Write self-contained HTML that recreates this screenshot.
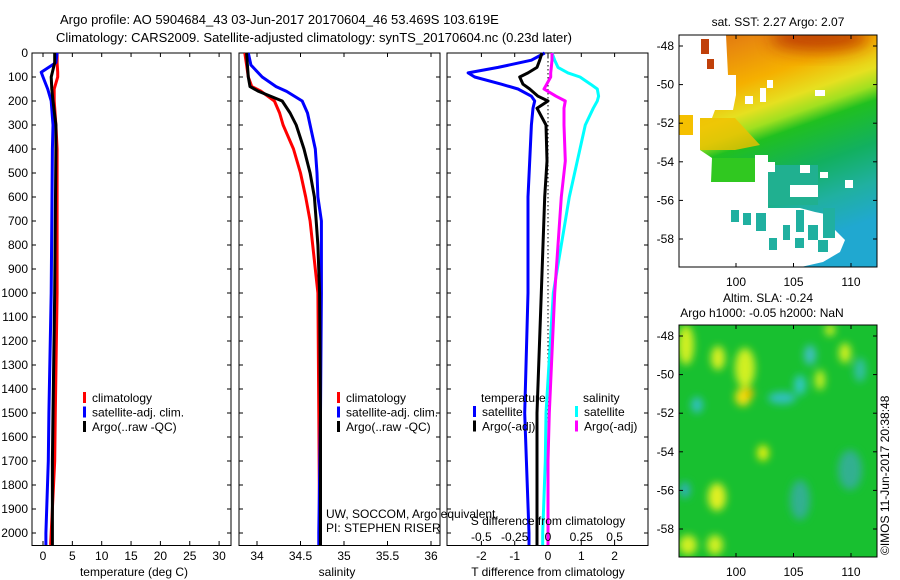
<!DOCTYPE html>
<html><head><meta charset="utf-8"><style>
body{margin:0;background:#fff;}
svg{display:block;font-family:"Liberation Sans",sans-serif;}
text{font-size:12px;fill:#000;}
</style></head><body>
<svg id="fig" width="900" height="580" viewBox="0 0 900 580">
<defs>
<filter id="blur" x="-50%" y="-50%" width="200%" height="200%"><feGaussianBlur stdDeviation="4"/></filter>
<filter id="blur2" x="-50%" y="-50%" width="200%" height="200%"><feGaussianBlur stdDeviation="8"/></filter>
<linearGradient id="sst" x1="0" y1="0" x2="0.3" y2="1">
<stop offset="0" stop-color="#d86a10"/><stop offset="0.12" stop-color="#e8880e"/><stop offset="0.28" stop-color="#f5b000"/>
<stop offset="0.4" stop-color="#e6e020"/><stop offset="0.47" stop-color="#a0e020"/><stop offset="0.53" stop-color="#20c020"/>
<stop offset="0.7" stop-color="#12b060"/><stop offset="0.85" stop-color="#20b0a0"/><stop offset="1" stop-color="#20a8d0"/></linearGradient>
<clipPath id="c1"><rect x="679" y="35" width="198" height="232"/></clipPath>
<clipPath id="c2"><rect x="679" y="325" width="198" height="232"/></clipPath>
</defs>
<text x="60" y="24" style="font-size:13px">Argo profile: AO 5904684_43 03-Jun-2017 20170604_46 53.469S 103.619E</text>
<text x="56" y="42" style="font-size:13px">Climatology: CARS2009. Satellite-adjusted climatology: synTS_20170604.nc (0.23d later)</text>
<g id="plots"></g>
</svg>
<script>
// depth grid shared by profiles
const tDepth=[0,40,80,100,150,200,300,400,700,1000,1500,1700,2000,2050];
const tClim=[2.4,2.4,2.5,2.5,1.9,1.9,2.2,2.4,2.4,2.4,2.1,2.0,1.4,1.3];
const tSat=[2.4,2.2,-0.3,0.0,0.8,1.4,1.7,1.6,1.5,1.4,1.0,0.9,0.5,0.5];
const tArgo=[2.0,2.0,1.6,1.4,1.5,1.7,2.2,2.2,2.1,2.0,1.7,1.6,1.6,1.6];
const sDepth=[0,50,100,140,160,200,250,300,400,500,600,700,800,1000,1500,2000,2050];
const sClim=[33.86,33.88,33.9,33.94,34.05,34.2,34.26,34.3,34.42,34.5,34.56,34.61,34.64,34.7,34.71,34.72,34.72];
const sSat=[33.9,33.93,34.06,34.22,34.34,34.52,34.58,34.61,34.67,34.69,34.7,34.74,34.74,34.74,34.73,34.71,34.71];
const sArgo=[33.88,33.89,33.9,33.92,34.02,34.29,34.38,34.45,34.54,34.61,34.66,34.68,34.7,34.72,34.73,34.73,34.73];
const dDepth=[0,30,60,83,100,130,150,180,200,230,300,450,600,1000,1500,1700,2000,2050];
const dTSat=[-0.1,-0.5,-1.5,-2.4,-2.2,-1.4,-0.9,-0.5,-0.4,-0.45,-0.5,-0.55,-0.6,-0.6,-0.7,-0.65,-0.57,-0.57];
const dTArgo=[-0.18,-0.25,-0.33,-0.6,-0.85,-0.75,-0.55,-0.3,0.0,-0.33,-0.06,-0.03,-0.1,-0.2,-0.33,-0.33,-0.33,-0.33];
const dSSat=[0.03,0.05,0.075,0.15,0.24,0.32,0.37,0.38,0.37,0.34,0.28,0.22,0.16,0.04,-0.015,-0.02,-0.04,-0.04];
const dSArgo=[0.03,0.03,0.025,0.02,0.02,-0.01,-0.03,0.06,0.13,0.12,0.12,0.13,0.1,0.05,0.01,0.0,0.0,0.0];
const depthTicks=[0,100,200,300,400,500,600,700,800,900,1000,1100,1200,1300,1400,1500,1600,1700,1800,1900,2000];
const tTicks=[0,5,10,15,20,25,30];
const sTicks=[34,34.5,35,35.5,36];
const dTicks=[-2,-1,0,1,2];
const dSLabels=["-0.5","-0.25","0","0.25","0.5"];
const latTicks=[-48,-50,-52,-54,-56,-58];
const lonTicks=[100,105,110];

const NS="http://www.w3.org/2000/svg";
const G=document.getElementById('plots');
function el(tag,attrs,parent){const e=document.createElementNS(NS,tag);for(const k in attrs)e.setAttribute(k,attrs[k]);(parent||G).appendChild(e);return e;}
const yD=d=>53+d*0.24;
function panel(x0,x1,xs,ticks,labels,name){
  const g=el('g',{});
  
  
  el('rect',{x:x0,y:53,width:x1-x0,height:492.5,fill:'none',stroke:'#000','stroke-width':1},g);
  ticks.forEach((t,i)=>{const x=xs(t);
    el('line',{x1:x,x2:x,y1:545.5,y2:541,stroke:'#000'},g);
    el('line',{x1:x,x2:x,y1:53,y2:57,stroke:'#000'},g);
    const tx=el('text',{x:x,y:560,'text-anchor':'middle'},g);tx.textContent=labels[i];
    
    });
  depthTicks.forEach(d=>{el('line',{x1:x0,x2:x0+4,y1:yD(d),y2:yD(d),stroke:'#000'},g);el('line',{x1:x1,x2:x1-4,y1:yD(d),y2:yD(d),stroke:'#000'},g);});
  return g;
}
function line(g,xs,depths,vals,color,name){
  const p=el('polyline',{points:vals.map((v,i)=>xs(v).toFixed(1)+','+yD(depths[i]).toFixed(1)).join(' '),fill:'none',stroke:color,'stroke-width':3,'stroke-linejoin':'round'},g);
  
  
}
function txt(g,x,y,s,name,anchor){const t=el('text',{x:x,y:y,'text-anchor':anchor||'start'},g);t.textContent=s;
  
  return t;}
function legend(g,x,y,items){items.forEach((it,i)=>{el('rect',{x:x,y:y+i*14.5-10,width:3,height:11,fill:it[0]},g);txt(g,x+9,y+i*14.5,it[1],'legend-entry');});}

// panel 1
const xT=t=>43+t*5.87;
const g1=panel(32,231,xT,tTicks,tTicks.map(String),'temperature-panel');
depthTicks.forEach(d=>txt(g1,28,yD(d)+4,String(d),'depth-tick-label','end'));
line(g1,xT,tDepth,tClim,'#ff0000','temp-climatology-line');
line(g1,xT,tDepth,tSat,'#0000ff','temp-satellite-line');
line(g1,xT,tDepth,tArgo,'#000','temp-argo-line');
legend(g1,83,402,[['#f00','climatology'],['#00f','satellite-adj. clim.'],['#000','Argo(..raw -QC)']]);
txt(g1,134,576,'temperature (deg C)','x-axis-title','middle');

// panel 2
const xS=s=>257+(s-34)*87;
const g2=panel(239,440,xS,sTicks,sTicks.map(String),'salinity-panel');
line(g2,xS,sDepth,sClim,'#ff0000','sal-climatology-line');
line(g2,xS,sDepth,sSat,'#0000ff','sal-satellite-line');
line(g2,xS,sDepth,sArgo,'#000','sal-argo-line');
legend(g2,337,402,[['#f00','climatology'],['#00f','satellite-adj. clim.'],['#000','Argo(..raw -QC)']]);
txt(g2,326,518,'UW, SOCCOM, Argo equivalent','pi-institution');
txt(g2,326,532,'PI: STEPHEN RISER','pi-name');
txt(g2,337,576,'salinity','x-axis-title','middle');

// panel 3
const xDT=t=>548+t*33.3;
const xDS=s=>548+s*133.2;
const g3=panel(447,648,xDT,dTicks,dTicks.map(String),'difference-panel');
el('line',{x1:548,x2:548,y1:53,y2:545,stroke:'#000','stroke-dasharray':'1.5,2.5','stroke-width':1},g3);
line(g3,xDS,dDepth,dSSat,'#00ffff','sdiff-satellite-line');
line(g3,xDS,dDepth,dSArgo,'#ff00ff','sdiff-argo-line');
line(g3,xDT,dDepth,dTSat,'#0000ff','tdiff-satellite-line');
line(g3,xDT,dDepth,dTArgo,'#000','tdiff-argo-line');
txt(g3,481,402,'temperature','legend-title');
txt(g3,583,402,'salinity','legend-title');
legend(g3,473,416,[['#00f','satellite'],['#000','Argo(-adj)']]);
legend(g3,575,416,[['#0ff','satellite'],['#f0f','Argo(-adj)']]);
txt(g3,548,525,'S difference from climatology','s-axis-title','middle');
dSLabels.forEach((s,i)=>txt(g3,xDT(dTicks[i]),541,s,'s-tick-label','middle'));
txt(g3,548,576,'T difference from climatology','x-axis-title','middle');

// maps
const xLon=l=>736+(l-100)*11.5;
function mapGroup(name){
  const g=el('g',{});
  
  
  return g;
}
function finishMap(g,y0,latY){
  el('rect',{x:679,y:y0,width:198,height:232,fill:'none',stroke:'#000'},g);
  latTicks.forEach(l=>{const y=latY(l);el('line',{x1:679,x2:683,y1:y,y2:y,stroke:'#000'},g);el('line',{x1:877,x2:873,y1:y,y2:y,stroke:'#000'},g);txt(g,674,y+4,String(l),'lat-tick-label','end');});
  lonTicks.forEach(l=>{const x=xLon(l);el('line',{x1:x,x2:x,y1:y0,y2:y0+4,stroke:'#000'},g);el('line',{x1:x,x2:x,y1:y0+232,y2:y0+228,stroke:'#000'},g);txt(g,x,y0+251,String(l),'lon-tick-label','middle');});
}
const lat1=l=>46+(-48-l)*19.3;
const m1=mapGroup('sst-map');
txt(m1,778,26,'sat. SST: 2.27  Argo: 2.07','sst-map-title','middle');
const mg=el('g',{'clip-path':'url(#c1)'},m1);
el('rect',{x:679,y:35,width:198,height:232,fill:'url(#sst)'},mg);
el('ellipse',{cx:820,cy:38,rx:50,ry:14,fill:'#b02000',opacity:0.7,filter:'url(#blur2)'},mg);
el('polygon',{points:'678,138 700,118 735,118 760,145 735,150 700,150',fill:'#f0c000',opacity:0.8},mg);
el('polygon',{points:'711,158 755,158 755,182 711,182',fill:'#30c820'},mg);
el('polygon',{points:'768,165 818,165 818,205 768,205',fill:'#20b090'},mg);
// white (missing data) areas
const W='#fff';
el('polygon',{points:'678,35 726,35 728,75 736,75 736,95 733,110 715,110 712,118 700,118 700,150 712,158 711,182 755,182 755,155 768,155 768,208 800,208 815,212 830,215 835,230 845,240 840,252 823,262 801,267 678,267',fill:W},mg);
[[755,162,20,10],[790,185,28,12],[800,165,10,8],[820,172,8,6],[845,180,8,8],[767,80,6,8],[745,96,8,8],[760,88,6,14],[815,90,10,6]].forEach(r=>el('rect',{x:r[0],y:r[1],width:r[2],height:r[3],fill:W},mg));
el('rect',{x:679,y:115,width:14,height:20,fill:'#f5c000'},mg);
el('rect',{x:701,y:39,width:8,height:15,fill:'#c0400a'},mg);
el('rect',{x:707,y:59,width:7,height:10,fill:'#c0400a'},mg);
[[731,210,8,12],[743,213,8,12],[756,213,10,18],[769,238,8,12],[783,225,7,15],[796,210,8,22],[808,225,10,15],[795,238,9,10],[818,240,10,12],[823,208,12,30]].forEach(r=>el('rect',{x:r[0],y:r[1],width:r[2],height:r[3],fill:'#20b0a0'},mg));

const lat2=l=>336+(-48-l)*19.3;
const m2=mapGroup('sla-map');
txt(m2,768,302,'Altim. SLA: -0.24','sla-map-title','middle');
txt(m2,762,317,'Argo h1000: -0.05 h2000: NaN','sla-map-subtitle','middle');
const mg2=el('g',{'clip-path':'url(#c2)'},m2);
el('rect',{x:679,y:325,width:198,height:232,fill:'#18c030'},mg2);
const bl=el('g',{filter:'url(#blur)'},mg2);
[[686,345,8,20,'#d0f020'],[718,358,7,12,'#d8f020'],[745,368,10,20,'#d0f020'],[743,397,8,9,'#f0e010'],[749,393,5,5,'#f0c000'],[810,355,6,10,'#40c0c0'],[800,385,6,10,'#30c8c0'],[782,398,14,6,'#30c0c0'],[845,353,6,10,'#d0f020'],[820,380,5,10,'#c8f020'],[697,405,6,8,'#30c0c0'],[763,453,6,8,'#e0f010'],[717,497,9,14,'#e0f020'],[688,545,9,10,'#d0f020'],[715,545,8,10,'#d0f020'],[860,370,6,12,'#30c0a0'],[850,470,12,20,'#30b090'],[800,500,10,20,'#30b090'],[685,490,5,8,'#30b0c0'],[830,330,5,6,'#d0f020']].forEach(b=>el('ellipse',{cx:b[0],cy:b[1],rx:b[2],ry:b[3],fill:b[4]},bl));
finishMap(m1,35,lat1);
finishMap(m2,325,lat2);
const cp=el('text',{x:0,y:0,transform:'translate(889,555) rotate(-90)'});
cp.textContent='©IMOS 11-Jun-2017 20:38:48';


</script>
</body></html>
